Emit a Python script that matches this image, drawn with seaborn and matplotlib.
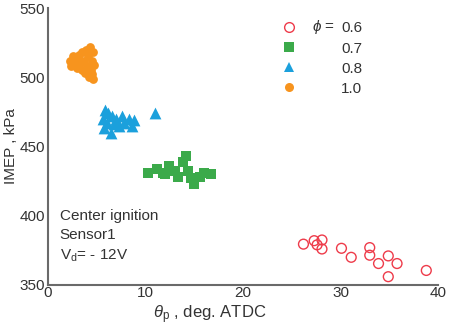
import matplotlib
matplotlib.use("Agg")
import matplotlib.pyplot as plt
import seaborn as sns
import pandas as pd
from matplotlib.lines import Line2D
from matplotlib.ticker import MultipleLocator

# ---- data ----
phi06_x = [26.2, 27.3, 27.6, 28.1, 28.1, 30.1, 31.1, 33.0, 33.0, 33.9, 34.9, 35.8, 34.9, 38.8]
phi06_y = [379.5, 382.0, 379.0, 382.5, 376.0, 376.5, 370.0, 377.0, 371.5, 365.5, 371.0, 365.5, 356.0, 360.5]

phi07_x = [10.3, 11.2, 11.8, 12.4, 13.0, 13.3, 13.8, 14.2, 14.4, 14.7, 15.0, 15.6, 16.0, 16.7, 12.0]
phi07_y = [431.0, 434.0, 431.0, 436.0, 432.0, 428.0, 439.0, 443.0, 432.0, 427.0, 423.0, 428.0, 431.0, 430.0, 430.0]

phi08_x = [5.6, 5.8, 6.0, 5.7, 6.5, 6.6, 6.8, 7.0, 7.3, 7.6, 7.8, 8.3, 8.6, 8.8, 6.2, 11.0]
phi08_y = [470.0, 476.0, 467.0, 463.0, 460.0, 472.0, 466.0, 470.0, 465.0, 472.0, 467.0, 470.0, 465.0, 469.0, 474.0, 474.0]

phi10_x = [2.3, 2.4, 2.6, 2.8, 3.0, 3.0, 3.2, 3.3, 3.5, 3.5, 3.7, 3.8, 3.9, 4.0, 4.1, 4.2, 4.3, 4.4, 4.5, 4.6, 4.6, 4.7, 4.5]
phi10_y = [512.0, 508.0, 515.0, 510.0, 513.0, 507.0, 516.0, 510.0, 505.0, 518.0, 512.0, 503.0, 520.0, 508.0, 515.0, 500.0, 522.0, 505.0, 512.0, 518.0, 499.0, 509.0, 502.0]

legend_labels = ["0.6", "0.7", "0.8", "1.0"]
x_ticks = [0, 10, 20, 30, 40]
y_ticks = [350, 400, 450, 500, 550]

# ---- style ----
sns.set_style("white")
plt.rcParams["font.family"] = ["Liberation Sans", "DejaVu Sans"]
plt.rcParams["mathtext.fontset"] = "custom"
plt.rcParams["mathtext.rm"] = "Liberation Sans"
plt.rcParams["mathtext.it"] = "Liberation Sans:italic"

red, green, blue, orange = "#EE3B4A", "#3BAA4A", "#1BA0DC", "#F7941E"
txt = "#333333"
spine_c = "#6a6a6a"

fig = plt.figure(figsize=(4.51, 3.33), dpi=100)
ax = fig.add_axes([48 / 451, 1 - 285 / 333, 390 / 451, 277 / 333])

df06 = pd.DataFrame({"x": phi06_x, "y": phi06_y})
df07 = pd.DataFrame({"x": phi07_x, "y": phi07_y})
df08 = pd.DataFrame({"x": phi08_x, "y": phi08_y})
df10 = pd.DataFrame({"x": phi10_x, "y": phi10_y})

sns.scatterplot(data=df06, x="x", y="y", ax=ax, marker="o", s=50,
                facecolor="none", edgecolor=red, linewidth=1.0)
sns.scatterplot(data=df07, x="x", y="y", ax=ax, marker="s", s=46,
                color=green, edgecolor=green, linewidth=0)
sns.scatterplot(data=df08, x="x", y="y", ax=ax, marker="^", s=72,
                color=blue, edgecolor=blue, linewidth=0)
sns.scatterplot(data=df10, x="x", y="y", ax=ax, marker="o", s=40,
                color=orange, edgecolor=orange, linewidth=0)

ax.set_xlim(0, 40)
ax.set_ylim(350, 550)
ax.set_xticks(x_ticks)
ax.set_yticks(y_ticks)
ax.xaxis.set_minor_locator(MultipleLocator(5))
ax.tick_params(axis="both", which="both", direction="in", colors=spine_c,
               labelcolor=txt, labelsize=11)
ax.tick_params(axis="x", which="major", length=8, width=1, pad=1)
ax.tick_params(axis="x", which="minor", length=6, width=1)
ax.tick_params(axis="y", which="major", length=8, width=1, pad=2)

for s in ["top", "right"]:
    ax.spines[s].set_visible(False)
for s in ["left", "bottom"]:
    ax.spines[s].set_color(spine_c)
    ax.spines[s].set_linewidth(1.5)

ax.set_xlabel(r"$\theta_\mathregular{p}$ , deg. ATDC", fontsize=12, color=txt)
ax.xaxis.set_label_coords((210 - 48) / 390, (285 - 303) / 277)
ax.set_ylabel("IMEP , kPa", fontsize=11, color=txt, labelpad=1)

ax.text(0.03, (285 - 209) / 277, "Center ignition\nSensor1\nV$_\\mathregular{d}$= - 12V",
        transform=ax.transAxes, fontsize=11, color=txt, va="top", ha="left",
        linespacing=1.45)

handles = [
    Line2D([], [], ls="none", marker="o", markersize=7, markerfacecolor="none",
           markeredgecolor=red, markeredgewidth=1.0),
    Line2D([], [], ls="none", marker="s", markersize=6.5, color=green, markeredgewidth=0),
    Line2D([], [], ls="none", marker="^", markersize=7.5, color=blue, markeredgewidth=0),
    Line2D([], [], ls="none", marker="o", markersize=6.5, color=orange, markeredgewidth=0),
]
leg = ax.legend(handles, legend_labels, loc="upper left",
                bbox_to_anchor=((281.4 - 48) / 390, (285 - 21.5) / 277),
                frameon=False, fontsize=11, handlelength=1.0,
                handletextpad=2.9, labelspacing=0.40, borderpad=0,
                borderaxespad=0)
for t in leg.get_texts():
    t.set_color(txt)

ax.text((312 - 48) / 390, (285 - 27.5) / 277, r"$\phi$ =",
        transform=ax.transAxes, fontsize=11, color=txt, va="center", ha="left")

fig.savefig("out.png", dpi=100)
